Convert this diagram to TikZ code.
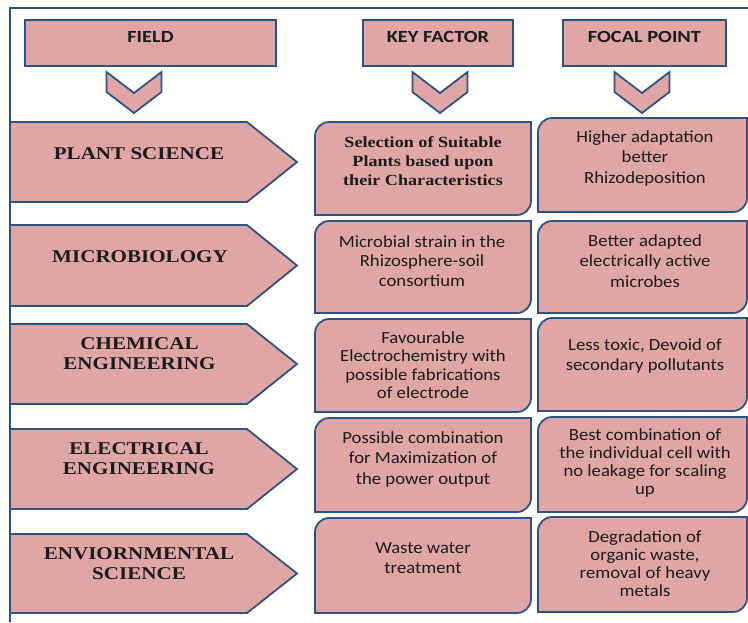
\documentclass[tikz,border=0pt]{standalone}
\usepackage{fontspec}
\setmainfont{Carlito}[FakeStretch=1.1]
\newfontfamily\headfont{Carlito}[FakeStretch=1.2]
\newfontfamily\fieldfont{Liberation Serif}[FakeStretch=1.17]
\usepackage{tikz}

\definecolor{pinkfill}{HTML}{DFA6A5}
\definecolor{blueline}{HTML}{2F5283}
\definecolor{darktext}{HTML}{1C1C1C}

\tikzset{
    pinkshape/.style={fill=pinkfill, draw=blueline, line width=1.8pt},
    headbox/.style={pinkshape, minimum height=46pt, text height=11pt, text depth=13pt, text=darktext, font=\headfont\bfseries\fontsize{17}{20}\selectfont},
    fieldtext/.style={align=center, text=darktext, font=\fieldfont\bfseries\fontsize{18}{20}\selectfont},
    celltext/.style={align=center, text=darktext, font=\fontsize{17}{19.5}\selectfont},
}

% box with top left and bottom right corner rounded
\newcommand\cellbox[4]{%
    \draw[pinkshape] (#1,#4) -- (#1,#2+14) .. controls (#1,#2+6.3) and (#1+6.3,#2) .. (#1+14,#2)
        -- (#3,#2) -- (#3,#4-14) .. controls (#3,#4-6.3) and (#3-6.3,#4) .. (#3-14,#4) -- cycle;}

\begin{document}
\begin{tikzpicture}[x=1pt,y=-1pt]
                        \useasboundingbox (0,0) rectangle (748,622);
                        \draw[blueline, line width=2.2pt] (10,622) -- (10,8) -- (748,8);

                        % column heads
                        \node[headbox, minimum width=251pt] (field) at (150.5,43) {FIELD};
                        \node[headbox, minimum width=150pt] (key) at (438,43) {KEY FACTOR};
                        \node[headbox, minimum width=163pt] (focal) at (644.5,43) {FOCAL POINT};
                        \foreach \cx in {134,440,642}
                            \draw[pinkshape] (\cx-27.5,72) -- (\cx-27.5,92) -- (\cx,113) -- (\cx+27.5,92) -- (\cx+27.5,72) -- (\cx,93) -- cycle;

                        % rows
                        \foreach \t/\b in {122/202,225/306,324/404,429/509,534/613}
                            \draw[pinkshape] (10,\t) -- (247,\t) -- (297,{(\t+\b)/2}) -- (247,\b) -- (10,\b) -- cycle;
                        \foreach \t/\b in {122/215,221/313,319/412,418/512,518/613}
                            {\cellbox{315}{\t}{531}{\b}}
                        \foreach \t/\b in {118/212,221/313,318/411,417/512,517/612}
                            {\cellbox{538}{\t}{747}{\b}}

                        \node[fieldtext] (plant) at (139,154) {PLANT SCIENCE};
                        \node[fieldtext] (microbio) at (140,257) {MICROBIOLOGY};
                        \node[fieldtext] (chemeng) at (139.5,354) {CHEMICAL\\ENGINEERING};
                        \node[fieldtext] (eleceng) at (139,459) {ELECTRICAL\\ENGINEERING};
                        \node[fieldtext] (enviro) at (139,564) {ENVIORNMENTAL\\SCIENCE};

                        \node[celltext, font=\fieldfont\bfseries\fontsize{15.5}{19}\selectfont] (key1) at (423,161) {Selection of Suitable\\Plants based upon\\their Characteristics};
                        \node[celltext] (key2) at (422,261) {Microbial strain in the\\Rhizosphere-soil\\consortium};
                        \node[celltext, font=\fontsize{17}{18.5}\selectfont] (key3) at (423,365) {Favourable\\Electrochemistry with\\possible fabrications\\of electrode};
                        \node[celltext, font=\fontsize{17}{20.5}\selectfont] (key4) at (423,459) {Possible combination\\for Maximization of\\the power output};
                        \node[celltext] (key5) at (423,558) {Waste water\\treatment};

                        \node[celltext, font=\fontsize{17}{20.5}\selectfont] (focal1) at (645,158) {Higher adaptation\\better\\Rhizodeposition};
                        \node[celltext, font=\fontsize{17}{20.5}\selectfont] (focal2) at (645,261) {Better adapted\\electrically active\\microbes};
                        \node[celltext] (focal3) at (645,356) {Less toxic, Devoid of\\secondary pollutants};
                        \node[celltext, font=\fontsize{17}{18}\selectfont] (focal4) at (645,463) {Best combination of\\the individual cell with\\no leakage for scaling\\up};
                        \node[celltext, font=\fontsize{17}{18}\selectfont] (focal5) at (645,564) {Degradation of\\organic waste,\\removal of heavy\\metals};
                    \end{tikzpicture}
\end{document}
